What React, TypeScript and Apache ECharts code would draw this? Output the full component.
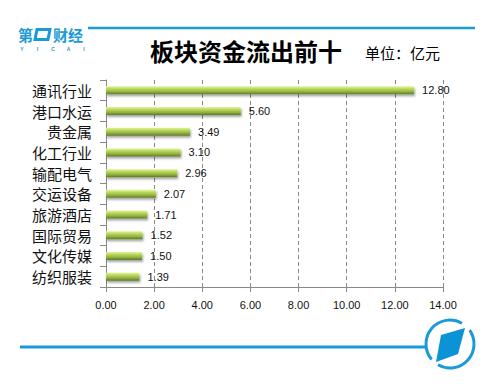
import React, { useEffect, useRef } from "react";
import * as echarts from "echarts";

const categories = ["通讯行业", "港口水运", "贵金属", "化工行业", "输配电气", "交运设备", "旅游酒店", "国际贸易", "文化传媒", "纺织服装"];
const values = [12.8, 5.6, 3.49, 3.1, 2.96, 2.07, 1.71, 1.52, 1.5, 1.39];
const xTicks = { min: 0, max: 14, interval: 2 };
const title = "板块资金流出前十";
const unitText = "单位：亿元";
const logoLetters = ["Y", "I", "C", "A", "I"];

const BLUE = "#1a9ad6";

export default function App() {
  const ref = useRef<HTMLDivElement>(null);
  useEffect(() => {
    if (!ref.current) return;
    const chart = echarts.init(ref.current, null, { renderer: "svg" });
    chart.setOption({
      animation: false,
      backgroundColor: "#ffffff",
      grid: { left: 106, right: 59, top: 80, bottom: 101, containLabel: false },
      xAxis: {
        type: "value",
        min: xTicks.min,
        max: xTicks.max,
        interval: xTicks.interval,
        axisLine: { show: true, lineStyle: { color: "#888", width: 1 } },
        axisTick: { show: true, length: 5, lineStyle: { color: "#888" } },
        axisLabel: {
          formatter: (v: number) => v.toFixed(2),
          fontSize: 11,
          color: "#111",
          fontFamily: "Liberation Sans, Arial, sans-serif",
          margin: 12,
        },
        splitLine: { show: true, lineStyle: { color: "#888", type: [4, 3], width: 1 } },
      },
      yAxis: {
        type: "category",
        data: categories,
        inverse: true,
        axisLine: { show: true, lineStyle: { color: "#888", width: 1 } },
        axisTick: { show: true, length: 6, lineStyle: { color: "#888" } },
        axisLabel: {
          fontSize: 15,
          color: "#111",
          fontFamily: "Noto Sans CJK SC, sans-serif",
          margin: 14,
        },
        splitLine: { show: false },
      },
      series: [
        {
          type: "bar",
          data: values,
          barWidth: 8,
          itemStyle: {
            color: new echarts.graphic.LinearGradient(0, 0, 0, 1, [
              { offset: 0, color: "#e4f59a" },
              { offset: 0.3, color: "#bcd95e" },
              { offset: 0.65, color: "#94b442" },
              { offset: 1, color: "#5e7a24" },
            ]),
            shadowColor: "rgba(0,0,0,0.35)",
            shadowOffsetY: 2,
            shadowOffsetX: 1,
            shadowBlur: 2,
          },
          label: {
            show: true,
            position: "right",
            distance: 8,
            formatter: (p: any) => Number(p.value).toFixed(2),
            fontSize: 11,
            color: "#111",
            fontFamily: "Liberation Sans, Arial, sans-serif",
          },
        },
      ],
      graphic: [
        {
          type: "line",
          shape: { x1: 88, y1: 28, x2: 475, y2: 28 },
          style: { stroke: BLUE, lineWidth: 2.5 },
        },
        {
          type: "text",
          x: 18,
          y: 34,
          style: { text: "第", fontSize: 15, lineHeight: 13, fontWeight: "bold", fill: BLUE, verticalAlign: "middle", fontFamily: "Noto Sans CJK SC, sans-serif" },
        },
        {
          type: "polygon",
          shape: { points: [[37, 29.5], [50, 29.5], [48, 39.5], [35, 39.5]] },
          style: { fill: "none", stroke: BLUE, lineWidth: 3 },
        },
        {
          type: "text",
          x: 53,
          y: 34,
          style: { text: "财经", fontSize: 15, lineHeight: 13, fontWeight: "bold", fill: BLUE, verticalAlign: "middle", fontFamily: "Noto Sans CJK SC, sans-serif" },
        },
        ...logoLetters.map((ch, i) => ({
          type: "text",
          x: 22 + i * 15.5,
          y: 48.5,
          style: { text: ch, fontSize: 5, lineHeight: 5, fill: BLUE, align: "center", verticalAlign: "middle", fontFamily: "Liberation Sans, sans-serif", fontWeight: "bold" },
        })),
        {
          type: "text",
          x: 150,
          y: 50,
          style: {
            text: title,
            fontSize: 24,
            fontWeight: "bold",
            fill: "#000",
            verticalAlign: "middle",
            fontFamily: "Noto Sans CJK SC, sans-serif",
          },
        },
        {
          type: "text",
          x: 365,
          y: 52,
          style: {
            text: unitText,
            fontSize: 15,
            fill: "#000",
            verticalAlign: "middle",
            fontFamily: "Noto Sans CJK SC, sans-serif",
          },
        },
        {
          type: "line",
          shape: { x1: 20, y1: 347, x2: 425, y2: 347 },
          style: { stroke: BLUE, lineWidth: 3 },
        },
        {
          type: "arc",
          shape: { cx: 450, cy: 344, r: 24, startAngle: (-35 * Math.PI) / 180, endAngle: (120 * Math.PI) / 180, clockwise: true },
          style: { stroke: BLUE, lineWidth: 3, fill: "none" },
        },
        {
          type: "arc",
          shape: { cx: 450, cy: 344, r: 24, startAngle: (140 * Math.PI) / 180, endAngle: (300 * Math.PI) / 180, clockwise: true },
          style: { stroke: BLUE, lineWidth: 3, fill: "none" },
        },
        {
          type: "polygon",
          shape: { points: [[441, 335], [465, 328], [458, 354], [436, 362]] },
          style: { fill: "#0b93d6" },
        },
      ],
    });
    return () => chart.dispose();
  }, []);
  return (
    <div
      ref={ref}
      style={{ position: "fixed", left: 0, top: 0, width: 502, height: 388 }}
    />
  );
}
